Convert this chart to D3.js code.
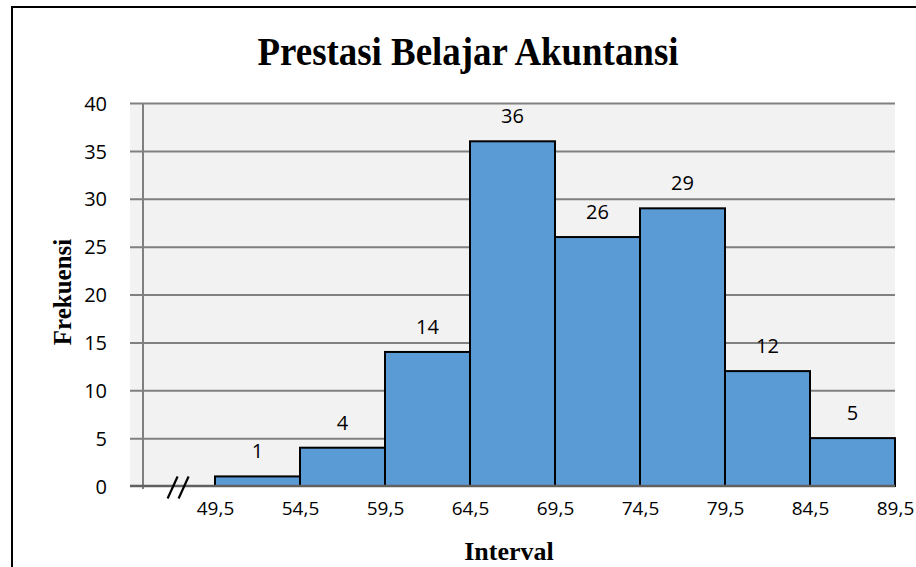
<!DOCTYPE html>
<html><head><meta charset="utf-8">
<script src="https://cdn.jsdelivr.net/npm/d3@7"></script>
<style>
html,body{margin:0;padding:0;background:#fff;}
svg{display:block;}
</style></head>
<body>
<svg id="chart" width="916" height="567"></svg>
<script>
const binStarts = [49.5, 54.5, 59.5, 64.5, 69.5, 74.5, 79.5, 84.5];
const binWidth = 5;
const frequencies = [1, 4, 14, 36, 26, 29, 12, 5];
const xTickValues = [49.5, 54.5, 59.5, 64.5, 69.5, 74.5, 79.5, 84.5, 89.5];
const xTickLabels = ["49,5", "54,5", "59,5", "64,5", "69,5", "74,5", "79,5", "84,5", "89,5"];
const yTickValues = [0, 5, 10, 15, 20, 25, 30, 35, 40];
const title = "Prestasi Belajar Akuntansi";
const xTitle = "Interval";
const yTitle = "Frekuensi";

const svg = d3.select("#chart");
const plot = {left: 130, right: 895, top: 103, bottom: 486};

const x = d3.scaleLinear().domain([44.5, 89.5]).range([plot.left, plot.right]);
const y = d3.scaleLinear().domain([0, 40]).range([plot.bottom, plot.top]);

// outer border
svg.append("rect").attr("x", 12).attr("y", 7).attr("width", 1000).attr("height", 1000)
  .attr("fill", "none").attr("stroke", "#000").attr("stroke-width", 2);

// plot background
svg.append("rect").attr("x", plot.left).attr("y", plot.top)
  .attr("width", plot.right - plot.left).attr("height", plot.bottom - plot.top)
  .attr("fill", "#f2f2f2");

// gridlines (y axis with tick lines spanning)
const yAxis = d3.axisLeft(y).tickValues(yTickValues).tickSize(0).tickPadding(0).tickFormat(d3.format("d"));
const gy = svg.append("g").attr("transform", `translate(${plot.left},0)`).call(yAxis);
gy.select(".domain").remove();
gy.selectAll(".tick").each(function(d){
  const t = d3.select(this);
  if (d !== 0) {
    t.append("line").attr("x1", 0).attr("x2", plot.right - plot.left)
      .attr("stroke", "#808080").attr("stroke-width", 2);
  }
  t.select("text").attr("x", 107 - plot.left).attr("dy", "0.36em")
    .attr("font-family", "'Open Sans', sans-serif").attr("font-size", 20).attr("fill", "#000")
    .attr("text-anchor", "end");
});

// vertical axis line
svg.append("line").attr("x1", 143).attr("x2", 143).attr("y1", y(40)).attr("y2", y(0) + 3)
  .attr("stroke", "#808080").attr("stroke-width", 2);

// bars
svg.append("g").selectAll("rect").data(binStarts).join("rect")
  .attr("x", d => x(d))
  .attr("width", d => x(d + binWidth) - x(d))
  .attr("y", (d, i) => y(frequencies[i]))
  .attr("height", (d, i) => y(0) - y(frequencies[i]))
  .attr("fill", "#5b9bd5").attr("stroke", "#000").attr("stroke-width", 2);

// zero line
svg.append("line").attr("x1", plot.left).attr("x2", plot.right).attr("y1", y(0)).attr("y2", y(0))
  .attr("stroke", "#606060").attr("stroke-width", 2.5);

// bar labels
svg.append("g").selectAll("text").data(binStarts).join("text")
  .attr("x", d => x(d + binWidth / 2))
  .attr("y", (d, i) => y(frequencies[i]) - 18)
  .attr("text-anchor", "middle")
  .attr("font-family", "'Open Sans', sans-serif").attr("font-size", 20).attr("fill", "#000")
  .text((d, i) => frequencies[i]);

// x tick labels
const xAxis = d3.axisBottom(x).tickValues(xTickValues).tickSize(0).tickPadding(0)
  .tickFormat((d, i) => xTickLabels[i]);
const gx = svg.append("g").attr("transform", `translate(0,${y(0)})`).call(xAxis);
gx.select(".domain").remove();
gx.selectAll(".tick text").attr("y", 29).attr("dy", 0)
  .attr("font-family", "'Open Sans', sans-serif").attr("font-size", 19).attr("fill", "#000");

// axis break marks
const bx = x(47.3), by = y(0) + 1.5;
[-5, 6].forEach(off => {
  svg.append("line")
    .attr("x1", bx + off - 5).attr("y1", by + 11)
    .attr("x2", bx + off + 5).attr("y2", by - 11)
    .attr("stroke", "#000").attr("stroke-width", 2.2);
});

// titles
svg.append("text").attr("x", 468).attr("y", 65).attr("text-anchor", "middle")
  .attr("font-family", "'Liberation Serif', 'Times New Roman', serif").attr("font-weight", "bold")
  .attr("font-size", 41).attr("textLength", 421).attr("lengthAdjust", "spacingAndGlyphs")
  .attr("fill", "#000").text(title);

svg.append("text").attr("x", 509).attr("y", 560).attr("text-anchor", "middle")
  .attr("font-family", "'Liberation Serif', 'Times New Roman', serif").attr("font-weight", "bold")
  .attr("font-size", 26).attr("fill", "#000").text(xTitle);

svg.append("text").attr("transform", "translate(71,292) rotate(-90)").attr("text-anchor", "middle")
  .attr("font-family", "'Liberation Serif', 'Times New Roman', serif").attr("font-weight", "bold")
  .attr("font-size", 25).attr("fill", "#000").text(yTitle);
</script>
</body></html>
